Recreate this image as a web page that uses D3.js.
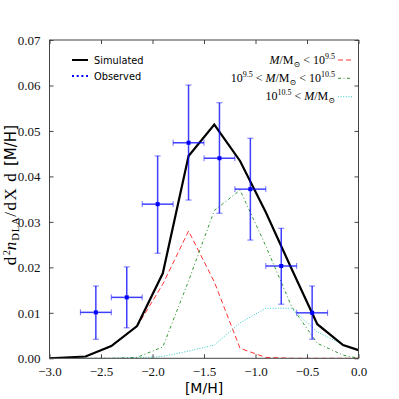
<!DOCTYPE html>
<html><head><meta charset="utf-8">
<script src="https://cdn.jsdelivr.net/npm/d3@7"></script>
<style>html,body{margin:0;padding:0;background:#fff;}svg{display:block;}</style>
</head><body>
<script>
// ---- data ----
const simX   = [-3.0, -2.65, -2.4, -2.15, -1.9, -1.65, -1.4, -1.15, -0.9, -0.65, -0.4, -0.15, 0.0];
const simY   = [0.0, 0.0004, 0.0027, 0.0071, 0.0187, 0.0445, 0.0514, 0.0434, 0.0321, 0.0197, 0.0075, 0.0029, 0.0018];
const lowX   = [-3.0, -2.65, -2.4, -2.15, -1.9, -1.65, -1.4, -1.15, -0.9, -0.65, -0.4, -0.15, 0.0];
const lowY   = [0.0, 0.0004, 0.0026, 0.0070, 0.0163, 0.0280, 0.0168, 0.0022, 0.0002, 0.0, 0.0, 0.0, 0.0];
const midX   = [-3.0, -2.65, -2.4, -2.15, -1.9, -1.65, -1.4, -1.15, -0.9, -0.65, -0.4, -0.15, 0.0];
const midY   = [0.0, 0.0, 0.0, 0.0002, 0.0025, 0.0170, 0.0325, 0.0370, 0.0247, 0.0114, 0.0033, 0.0007, 0.0];
const highX  = [-3.0, -2.65, -2.4, -2.15, -1.9, -1.65, -1.4, -1.15, -0.9, -0.65, -0.4, -0.15, 0.0];
const highY  = [0.0, 0.0, 0.0, 0.0001, 0.0004, 0.0016, 0.0029, 0.0078, 0.0110, 0.0110, 0.0058, 0.0030, 0.0018];
const obsX   = [-2.55, -2.25, -1.95, -1.65, -1.35, -1.05, -0.75, -0.45];
const obsY   = [0.0101, 0.0134, 0.0339, 0.0474, 0.0440, 0.0372, 0.0203, 0.0100];
const obsXerr= [0.15, 0.15, 0.15, 0.15, 0.15, 0.15, 0.15, 0.15];
const obsLo  = [0.0042, 0.0067, 0.0231, 0.0348, 0.0319, 0.0260, 0.0119, 0.0042];
const obsHi  = [0.0159, 0.0201, 0.0445, 0.0601, 0.0562, 0.0484, 0.0286, 0.0159];
const xTicks = [-3.0, -2.5, -2.0, -1.5, -1.0, -0.5, 0.0];
const yTicks = [0.00, 0.01, 0.02, 0.03, 0.04, 0.05, 0.06, 0.07];

const W = 399, H = 399;
const L = 49.5, R = 358.5, T = 40, B = 358.3;
const SERIF = "'Liberation Serif', 'DejaVu Serif', serif";
const SANS = "'DejaVu Sans', sans-serif";
const svg = d3.select("body").append("svg").attr("width", W).attr("height", H);
svg.append("rect").attr("width", W).attr("height", H).attr("fill", "#fff");

const x = d3.scaleLinear().domain([-3, 0]).range([L, R]);
const y = d3.scaleLinear().domain([0, 0.07]).range([B, T]);

const plot = svg.append("g");
svg.append("clipPath").attr("id", "c").append("rect")
  .attr("x", L).attr("y", T).attr("width", R - L).attr("height", B - T);
const g = plot.append("g").attr("clip-path", "url(#c)");

const line = d3.line().x(d => x(d[0])).y(d => y(d[1]));
const zip = (a, b) => a.map((v, i) => [v, b[i]]);

g.append("path").datum(zip(lowX, lowY)).attr("d", line).attr("fill", "none")
  .attr("stroke", "#ff0000").attr("stroke-width", 1).attr("stroke-dasharray", "5,3").attr("opacity", 0.8);
g.append("path").datum(zip(midX, midY)).attr("d", line).attr("fill", "none")
  .attr("stroke", "#008000").attr("stroke-width", 1).attr("stroke-dasharray", "3,2.5,1,2.5").attr("opacity", 0.8);
g.append("path").datum(zip(highX, highY)).attr("d", line).attr("fill", "none")
  .attr("stroke", "#00bfbf").attr("stroke-width", 1).attr("stroke-dasharray", "1,1.6").attr("opacity", 0.8);
g.append("path").datum(zip(simX, simY)).attr("d", line).attr("fill", "none")
  .attr("stroke", "#000").attr("stroke-width", 2.2).attr("stroke-linejoin", "miter");

// error bars
const eb = g.append("g");
obsX.forEach((cx, i) => {
  const px = x(cx), py = y(obsY[i]);
  const x0 = x(cx - obsXerr[i]), x1 = x(cx + obsXerr[i]);
  const y0 = y(obsLo[i]), y1 = y(obsHi[i]);
  eb.append("line").attr("x1", x0).attr("x2", x1).attr("y1", py).attr("y2", py)
    .attr("stroke", "#0000ff").attr("stroke-width", 1.5).attr("opacity", 0.75);
  eb.append("line").attr("x1", px).attr("x2", px).attr("y1", y0).attr("y2", y1)
    .attr("stroke", "#0000ff").attr("stroke-width", 1.5).attr("opacity", 0.75);
  [[x0, py, 0], [x1, py, 0], [px, y0, 1], [px, y1, 1]].forEach(c => {
    if (c[2] === 0) eb.append("line").attr("x1", c[0]).attr("x2", c[0]).attr("y1", c[1] - 3).attr("y2", c[1] + 3)
      .attr("stroke", "#0000ff").attr("stroke-width", 1).attr("opacity", 0.55);
    else eb.append("line").attr("x1", c[0] - 3).attr("x2", c[0] + 3).attr("y1", c[1]).attr("y2", c[1])
      .attr("stroke", "#0000ff").attr("stroke-width", 1).attr("opacity", 0.55);
  });
  eb.append("rect").attr("x", px - 2).attr("y", py - 2).attr("width", 4).attr("height", 4).attr("fill", "#0000ff");
});

// axes (inward ticks on all sides)
const tickFmtX = d => d3.format(".1f")(d).replace("-", "\u2212");
const ax = svg.append("g");
ax.append("g").attr("transform", `translate(0,${B})`)
  .call(d3.axisBottom(x).tickValues(xTicks).tickSizeInner(-4).tickSizeOuter(0).tickPadding(8).tickFormat(tickFmtX));
ax.append("g").attr("transform", `translate(0,${T})`)
  .call(d3.axisTop(x).tickValues(xTicks).tickSizeInner(-4).tickSizeOuter(0).tickFormat(""));
ax.append("g").attr("transform", `translate(${L},0)`)
  .call(d3.axisLeft(y).tickValues(yTicks).tickSizeInner(-4).tickSizeOuter(0).tickPadding(9).tickFormat(d3.format(".2f")));
ax.append("g").attr("transform", `translate(${R},0)`)
  .call(d3.axisRight(y).tickValues(yTicks).tickSizeInner(-4).tickSizeOuter(0).tickFormat(""));
ax.selectAll("g").attr("font-family", null).attr("font-size", null);
ax.selectAll(".domain").attr("stroke", "none");
ax.selectAll(".tick line").attr("stroke", "#444");
ax.selectAll("text").style("font-family", SERIF).style("font-size", "13px").attr("fill", "#111");
svg.append("rect").attr("x", L).attr("y", T).attr("width", R - L).attr("height", B - T)
  .attr("fill", "none").attr("stroke", "#444").attr("stroke-width", 1);

// x label
svg.append("text").attr("x", (L + R) / 2).attr("y", 393).attr("text-anchor", "middle")
  .style("font-family", SANS).style("font-size", "14px").attr("fill", "#000").text("[M/H]");

// y label
const s = 17;
const yl = svg.append("text").attr("transform", `translate(15.5,${(T + B) / 2 - 4}) rotate(-90)`)
  .attr("text-anchor", "middle").style("font-family", SERIF).style("font-size", s + "px").attr("fill", "#000");
yl.append("tspan").style("letter-spacing", "1.5px").text("d");
yl.append("tspan").style("font-size", (s * 0.6) + "px").attr("dy", -s * 0.33).text("2");
yl.append("tspan").attr("dy", s * 0.33).style("font-style", "italic").style("letter-spacing", "1px").text("n");
yl.append("tspan").style("font-size", (s * 0.62) + "px").attr("dy", s * 0.2).style("letter-spacing", "0.8px").text("DLA");
yl.append("tspan").attr("dy", -s * 0.2).style("letter-spacing", "1.5px").text("/dX\u2009d ");
yl.append("tspan").style("font-family", SANS).style("font-size", "15px").text("[M/H]");

// left legend
const lg = svg.append("g");
lg.append("line").attr("x1", 72).attr("x2", 88).attr("y1", 60).attr("y2", 60).attr("stroke", "#000").attr("stroke-width", 2);
lg.append("text").attr("x", 94).attr("y", 64).style("font-family", SANS).style("font-size", "9.8px").text("Simulated");
lg.append("line").attr("x1", 72).attr("x2", 88).attr("y1", 76).attr("y2", 76).attr("stroke", "#0000ff")
  .attr("stroke-width", 2.2).attr("stroke-dasharray", "2,2.7").attr("stroke-linecap", "butt");
lg.append("text").attr("x", 94).attr("y", 80).style("font-family", SANS).style("font-size", "9.8px").text("Observed");

// right legend
const rl = svg.append("g").style("font-family", SERIF).style("font-size", "12px");
function massText(yb, parts) {
  const t = rl.append("text").attr("x", 335).attr("y", yb).attr("text-anchor", "end");
  parts.forEach(p => {
    const sp = t.append("tspan").text(p.t);
    if (p.i) sp.style("font-style", "italic");
    if (p.dy) sp.attr("dy", p.dy);
    if (p.fs) sp.style("font-size", p.fs + "px");
  });
}
massText(64, [{t: "M", i: 1}, {t: "/M"}, {t: "\u2299", fs: 8, dy: 3}, {t: " < ", dy: -3}, {t: "10"}, {t: "9.5", fs: 8, dy: -5}]);
massText(82, [{t: "10"}, {t: "9.5", fs: 8, dy: -5}, {t: " < ", dy: 5}, {t: "M", i: 1}, {t: "/M"}, {t: "\u2299", fs: 8, dy: 3}, {t: " < ", dy: -3}, {t: "10"}, {t: "10.5", fs: 8, dy: -5}]);
massText(100, [{t: "10"}, {t: "10.5", fs: 8, dy: -5}, {t: " < ", dy: 5}, {t: "M", i: 1}, {t: "/M"}, {t: "\u2299", fs: 8, dy: 3}]);
rl.append("line").attr("x1", 338).attr("x2", 352).attr("y1", 60).attr("y2", 60).attr("stroke", "#ff0000").attr("stroke-dasharray", "5,3").attr("opacity", 0.8);
rl.append("line").attr("x1", 338).attr("x2", 352).attr("y1", 78.3).attr("y2", 78.3).attr("stroke", "#008000").attr("stroke-dasharray", "3,2.5,1,2.5").attr("opacity", 0.8);
rl.append("line").attr("x1", 338).attr("x2", 352).attr("y1", 96.7).attr("y2", 96.7).attr("stroke", "#00bfbf").attr("stroke-dasharray", "1,1.6").attr("opacity", 0.8);
</script>
</body></html>
